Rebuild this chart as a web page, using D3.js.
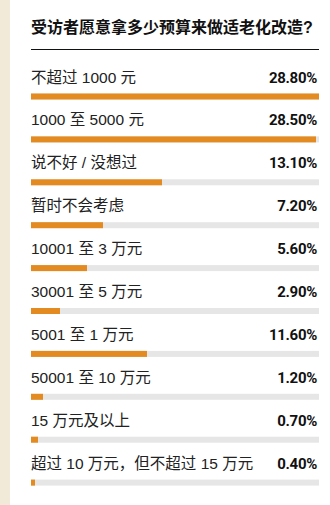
<!DOCTYPE html>
<html>
<head>
<meta charset="utf-8">
<script src="https://cdn.jsdelivr.net/npm/d3@7"></script>
<style>
  html, body { margin: 0; padding: 0; background: #fff; }
  svg { display: block; }
</style>
</head>
<body>
<script>
// Budget categories and share of respondents (%)
const categories = [
  "不超过 1000 元",
  "1000 至 5000 元",
  "说不好 / 没想过",
  "暂时不会考虑",
  "10001 至 3 万元",
  "30001 至 5 万元",
  "5001 至 1 万元",
  "50001 至 10 万元",
  "15 万元及以上",
  "超过 10 万元，但不超过 15 万元"
];
const shares = [28.8, 28.5, 13.1, 7.2, 5.6, 2.9, 11.6, 1.2, 0.7, 0.4];
const title = "受访者愿意拿多少预算来做适老化改造?";

const W = 330, H = 505;
const left = 31, right = 319;
const cjk = "'Liberation Sans', Arial, 'Noto Sans CJK SC', sans-serif";
const num = "'Roboto', 'Liberation Sans', sans-serif";

const svg = d3.select("body").append("svg")
  .attr("width", W).attr("height", H);

// side strip
svg.append("rect").attr("x", 0).attr("y", 0)
  .attr("width", 10).attr("height", H).attr("fill", "#f1ead8");

svg.append("text")
  .attr("x", left).attr("y", 33)
  .attr("font-family", cjk).attr("font-size", 16).attr("font-weight", "bold")
  .attr("fill", "#111").text(title);

svg.append("line")
  .attr("x1", left).attr("x2", right).attr("y1", 49.5).attr("y2", 49.5)
  .attr("stroke", "#111").attr("stroke-width", 1.2);

const x = d3.scaleLinear().domain([0, d3.max(shares)]).range([left, right]);
const y = d3.scaleBand().domain(categories).range([51, 51 + 42.9 * categories.length]);

const data = categories.map((c, i) => ({ c, v: shares[i] }));
const row = svg.selectAll("g.row").data(data).join("g")
  .attr("class", "row")
  .attr("transform", d => `translate(0,${y(d.c)})`);

row.append("rect")
  .attr("x", x(0)).attr("y", 42.5)
  .attr("width", x.range()[1] - x(0)).attr("height", 6)
  .attr("fill", "#e6e6e6");

row.append("rect")
  .attr("x", x(0)).attr("y", 42.5)
  .attr("width", d => x(d.v) - x(0)).attr("height", 6)
  .attr("fill", "#e38a20");

row.append("text")
  .attr("x", left).attr("y", 31.5)
  .attr("font-family", cjk).attr("font-size", 15.5)
  .attr("fill", "#222").text(d => d.c);

row.append("text")
  .attr("x", 317).attr("y", 31.5)
  .attr("text-anchor", "end")
  .attr("font-family", num).attr("font-size", 15).attr("font-weight", "bold")
  .attr("letter-spacing", -0.3)
  .attr("fill", "#111").text(d => d3.format(".2f")(d.v) + "%");
</script>
</body>
</html>
